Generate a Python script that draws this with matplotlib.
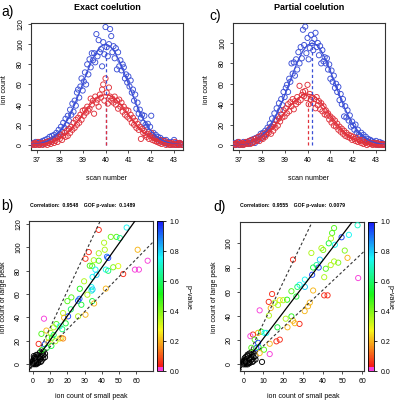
import numpy as np
import matplotlib
matplotlib.use("Agg")
import matplotlib.pyplot as plt
from matplotlib.colors import ListedColormap, Normalize, hsv_to_rgb
from matplotlib.cm import ScalarMappable

# ---------------- data ----------------
scan = [36.80, 36.85, 36.90, 36.95, 37.00, 37.05, 37.10, 37.15, 37.20, 37.25,
        37.30, 37.35, 37.40, 37.45, 37.50, 37.55, 37.60, 37.65, 37.70, 37.75,
        37.80, 37.85, 37.90, 37.95, 38.00, 38.05, 38.10, 38.15, 38.20, 38.25,
        38.30, 38.35, 38.40, 38.45, 38.50, 38.55, 38.60, 38.65, 38.70, 38.75,
        38.80, 38.85, 38.90, 38.95, 39.00, 39.05, 39.10, 39.15, 39.20, 39.25,
        39.30, 39.35, 39.40, 39.45, 39.50, 39.55, 39.60, 39.65, 39.70, 39.75,
        39.80, 39.85, 39.90, 39.95, 40.00, 40.05, 40.10, 40.15, 40.20, 40.25,
        40.30, 40.35, 40.40, 40.45, 40.50, 40.55, 40.60, 40.65, 40.70, 40.75,
        40.80, 40.85, 40.90, 40.95, 41.00, 41.05, 41.10, 41.15, 41.20, 41.25,
        41.30, 41.35, 41.40, 41.45, 41.50, 41.55, 41.60, 41.65, 41.70, 41.75,
        41.80, 41.85, 41.90, 41.95, 42.00, 42.05, 42.10, 42.15, 42.20, 42.25,
        42.30, 42.35, 42.40, 42.45, 42.50, 42.55, 42.60, 42.65, 42.70, 42.75,
        42.80, 42.85, 42.90, 42.95, 43.00, 43.05, 43.10, 43.15, 43.20, 43.25,
        43.30, 43.35]

blue_a = [1, 2, 0, 3, 1, 2, 0, 3, 2, 4,
          1, 5, 3, 6, 2, 8, 4, 9, 6, 10,
          7, 12, 9, 15, 11, 18, 13, 22, 17, 26,
          20, 29, 24, 35, 30, 41, 33, 44, 39, 52,
          55, 47, 58, 66, 54, 63, 72, 60, 80, 70,
          85, 77, 91, 84, 91, 82, 110, 88, 104, 92,
          95, 78, 102, 90, 117, 97, 88, 100, 115, 108,
          92, 98, 86, 96, 75, 92, 78, 84, 74, 80,
          77, 66, 70, 62, 68, 58, 64, 52, 55, 44,
          50, 36, 42, 31, 35, 27, 30, 22, 29, 20,
          18, 21, 13, 18, 29, 10, 12, 7, 10, 6,
          8, 5, 7, 3, 5, 4, 2, 5, 1, 3,
          2, 0, 3, 1, 5, 0, 2, 1, 0, 2,
          1, 0]

red_a = [0, 1, 2, 0, 1, 3, 0, 1, 2, 0,
         2, 1, 3, 0, 2, 4, 1, 3, 5, 2,
         4, 7, 3, 8, 6, 10, 5, 9, 12, 8,
         14, 9, 16, 12, 18, 15, 22, 17, 25, 20,
         27, 22, 30, 25, 34, 29, 35, 32, 38, 34,
         36, 46, 40, 44, 31, 48, 42, 45, 38, 50,
         47, 55, 60, 44, 66, 52, 41, 57, 48, 44,
         46, 42, 48, 40, 44, 36, 45, 38, 42, 33,
         38, 30, 35, 28, 34, 26, 30, 22, 27, 20,
         24, 17, 21, 15, 18, 6, 16, 12, 14, 10,
         8, 11, 6, 9, 12, 5, 7, 4, 6, 3,
         4, 2, 5, 1, 3, 2, 4, 0, 2, 1,
         0, 2, 1, 0, 1, 3, 0, 1, 0, 2,
         1, 0]

blue_c = [2, 0, 1, 3, 0, 2, 1, 0, 3, 1,
          2, 3, 1, 4, 2, 5, 3, 6, 2, 7,
          4, 8, 6, 11, 7, 12, 9, 14, 11, 17,
          15, 21, 18, 26, 20, 31, 25, 36, 28, 41,
          34, 45, 39, 52, 47, 56, 59, 52, 65, 62,
          80, 70, 81, 68, 84, 74, 91, 80, 96, 85,
          113, 98, 116, 90, 105, 84, 95, 108, 100, 93,
          104, 110, 96, 100, 88, 97, 80, 93, 82, 86,
          80, 85, 74, 79, 65, 73, 62, 68, 56, 60,
          52, 57, 44, 50, 40, 45, 28, 38, 27, 34,
          24, 29, 18, 23, 19, 15, 20, 12, 15, 10,
          9, 12, 7, 10, 5, 8, 4, 6, 3, 5,
          4, 2, 3, 1, 4, 2, 0, 3, 1, 2,
          0, 1]

red_c = [1, 0, 2, 1, 3, 0, 1, 2, 0, 1,
         3, 1, 2, 4, 1, 5, 2, 3, 6, 4,
         5, 8, 4, 9, 7, 6, 11, 8, 10, 13,
         12, 16, 11, 18, 14, 20, 17, 24, 19, 26,
         23, 30, 27, 34, 28, 36, 31, 40, 33, 42,
         38, 45, 35, 43, 40, 47, 42, 58, 44, 49,
         52, 48, 53, 46, 59, 40, 50, 44, 47, 41,
         45, 36, 47, 39, 43, 35, 41, 33, 38, 30,
         34, 29, 31, 25, 28, 22, 26, 19, 24, 18,
         21, 15, 18, 13, 16, 11, 14, 9, 12, 8,
         10, 7, 9, 5, 8, 6, 4, 7, 3, 5,
         4, 2, 5, 1, 3, 2, 0, 3, 1, 2,
         1, 0, 2, 1, 0, 2, 1, 0, 1, 0,
         1, 0]

# fitted curves, read at 0.2 scan spacing
fit_scan = [36.8, 37.0, 37.2, 37.4, 37.6, 37.8, 38.0, 38.2, 38.4, 38.6, 38.8, 39.0,
            39.2, 39.4, 39.6, 39.8, 40.0, 40.2, 40.4, 40.6, 40.8, 41.0, 41.2, 41.4,
            41.6, 41.8, 42.0, 42.2, 42.4, 42.6, 42.8, 43.0, 43.2, 43.4]
fit_blue_a = [0.6, 1.1, 2.0, 3.4, 5.6, 8.9, 13.5, 19.8, 27.8, 37.5, 48.7, 60.7,
              72.6, 83.5, 92.3, 98.0, 100.0, 98.0, 92.3, 83.5, 72.6, 60.7, 48.7, 37.5,
              27.8, 19.8, 13.5, 8.9, 5.6, 3.4, 2.0, 1.1, 0.6, 0.3]
fit_red_a = [0.3, 0.6, 1.0, 1.7, 2.8, 4.5, 6.8, 9.9, 13.9, 18.8, 24.4, 30.4,
             36.3, 41.8, 46.2, 49.0, 50.0, 49.0, 46.2, 41.8, 36.3, 30.4, 24.4, 18.8,
             13.9, 9.9, 6.8, 4.5, 2.8, 1.7, 1.0, 0.6, 0.3, 0.2]
fit_blue_c = [0.3, 0.6, 1.1, 2.0, 3.4, 5.6, 8.9, 13.5, 19.8, 27.8, 37.5, 48.7,
              60.7, 72.6, 83.5, 92.3, 98.0, 100.0, 98.0, 92.3, 83.5, 72.6, 60.7, 48.7,
              37.5, 27.8, 19.8, 13.5, 8.9, 5.6, 3.4, 2.0, 1.1, 0.6]
fit_red_c = [0.4, 0.8, 1.4, 2.3, 3.7, 5.6, 8.2, 11.6, 15.8, 20.6, 26.0, 31.6,
             37.0, 42.0, 46.3, 49.1, 50.0, 48.9, 45.9, 41.3, 35.6, 29.4, 23.3, 17.6,
             12.8, 8.9, 5.9, 3.8, 2.3, 1.3, 0.7, 0.4, 0.2, 0.1]

apex_a = {"blue": (40.0, 100.0), "red": (40.0, 50.0)}
apex_c = {"blue": (40.2, 100.0), "red": (40.0, 50.0)}

# panel b: (small peak, large peak, p-value)
b_small = [38.2, 54.4, 45.2, 48.5, 50.5, 41.3, 60.8, 41.7, 32.4, 38.2,
           43.7, 43.0, 66.6, 30.5, 35.3, 38.2, 33.0, 34.4, 49.5, 46.6,
           36.3, 42.3, 43.7, 59.2, 61.5, 52.4, 36.9, 34.6, 29.7, 27.2,
           34.0, 34.0, 34.6, 42.3, 31.6, 22.3, 26.2, 27.0, 20.0, 34.4,
           35.5, 28.1, 17.5, 30.5, 26.2, 20.4, 6.4, 18.1, 13.6, 15.5,
           19.0, 12.0, 7.8, 10.3, 4.9, 11.0, 9.0, 3.3, 6.8, 15.5,
           16.5, 17.5, 9.0, 13.0, 10.7, 8.0, 5.0, 12.0, 17.0, 22.0]
b_large = [115.0, 117.0, 109.0, 109.0, 108.0, 104.0, 98.0, 98.0, 96.0, 95.0,
           91.0, 92.0, 88.6, 90.3, 89.0, 88.6, 84.3, 84.0, 84.0, 83.0,
           81.0, 81.0, 80.0, 81.0, 81.0, 77.2, 76.5, 74.7, 71.0, 64.6,
           66.0, 63.0, 64.0, 64.7, 59.5, 57.2, 54.4, 56.0, 54.0, 54.0,
           52.0, 50.9, 43.8, 42.4, 41.0, 41.0, 39.0, 39.8, 34.4, 32.4,
           35.0, 31.6, 28.8, 26.8, 26.0, 22.7, 22.7, 17.4, 17.0, 22.0,
           22.5, 22.0, 18.5, 19.7, 15.7, 14.0, 12.0, 25.0, 30.0, 47.0]
b_pval = [0.05, 0.75, 0.42, 0.45, 0.65, 0.35, 0.20, 0.35, 0.05, 0.35,
          0.95, 0.90, 0.01, 0.06, 0.35, 0.45, 0.45, 0.45, 0.30, 0.40,
          0.75, 0.75, 0.60, 0.01, 0.01, 0.05, 0.80, 0.75, 0.35, 0.50,
          0.75, 0.70, 0.80, 0.20, 0.35, 0.45, 0.95, 0.90, 0.45, 0.55,
          0.20, 0.55, 0.35, 0.20, 0.35, 0.95, 0.01, 0.20, 0.45, 0.75,
          0.55, 0.35, 0.20, 0.35, 0.45, 0.50, 0.40, 0.05, 0.95, 0.30,
          0.20, 0.15, 0.20, 0.35, 0.55, 0.55, 0.50, 0.60, 0.60, 0.60]
b_black_small = [0, 0.5, 1, 0, 1, 0.5, 2, 2, 1, 0, 3, 3, 2, 4, 4, 5, 5, 6, 6, 7,
                 3, 4, 1, 2, 0, 1, 0.5, 3, 5, 7, 6, 2, 1.5, 4.5]
b_black_large = [0, 1, 2, 3, 4, 5, 1, 3, 6, 2, 2, 5, 6, 4, 7, 6, 9, 8, 5, 9,
                 8, 10, 0, 0, 1, 3, 7, 1, 3, 6, 11, 8, 4.5, 2]

# panel d
d_small = [57.7, 45.8, 44.8, 49.6, 53.3, 44.2, 46.2, 43.1, 51.2, 39.4,
           40.3, 34.3, 25.0, 38.6, 52.6, 45.8, 47.9, 58.0, 36.9, 38.0,
           35.2, 41.6, 44.1, 34.7, 40.8, 31.0, 28.3, 27.2, 24.2, 35.2,
           26.7, 31.0, 14.4, 40.8, 42.5, 22.0, 18.3, 20.0, 15.7, 12.7,
           17.4, 32.6, 33.5, 13.7, 8.1, 30.9, 12.8, 24.2, 21.3, 28.3,
           25.0, 25.9, 17.1, 22.2, 8.9, 10.6, 11.5, 7.3, 4.7, 3.4,
           5.6, 18.3, 16.6, 13.2, 7.3, 6.4, 10.3, 13.2, 3.9, 7.6, 8.1]
d_large = [114.9, 112.6, 108.5, 105.0, 107.0, 104.0, 98.8, 100.0, 94.0, 96.0,
           94.5, 92.0, 86.5, 86.5, 88.0, 85.0, 84.0, 71.3, 82.0, 80.0,
           80.0, 79.0, 82.0, 74.0, 72.0, 70.0, 65.7, 64.0, 60.4, 61.0,
           56.0, 64.0, 58.1, 57.0, 57.0, 53.4, 53.0, 53.0, 50.9, 51.6,
           49.0, 48.0, 51.0, 46.5, 44.6, 44.0, 40.3, 39.6, 37.7, 33.4,
           36.0, 34.0, 30.6, 30.6, 27.0, 26.0, 26.0, 26.0, 24.6, 23.3,
           20.4, 20.4, 19.0, 17.0, 17.8, 13.5, 12.1, 8.5, 13.7, 14.0, 9.3]
d_pval = [0.70, 0.45, 0.45, 0.95, 0.75, 0.35, 0.75, 0.55, 0.40, 0.35,
          0.40, 0.35, 0.05, 0.80, 0.20, 0.35, 0.40, 0.01, 0.65, 0.95,
          0.55, 0.45, 0.35, 0.95, 0.35, 0.75, 0.75, 0.60, 0.45, 0.20,
          0.55, 0.80, 0.05, 0.05, 0.05, 0.50, 0.25, 0.35, 0.35, 0.05,
          0.35, 0.20, 0.20, 0.20, 0.01, 0.20, 0.35, 0.50, 0.35, 0.05,
          0.20, 0.20, 0.55, 0.20, 0.50, 0.75, 0.75, 0.20, 0.05, 0.01,
          0.45, 0.05, 0.05, 0.20, 0.95, 0.95, 0.45, 0.01, 0.45, 0.55, 0.20]
d_black_small = [0, 0.5, 1, 0, 1, 0.5, 2, 2, 1, 0, 3, 3, 2, 4, 4, 5, 5, 6, 6,
                 3, 4, 1, 2, 0, 1, 3, 5, 2, 1.5, 4.5, 9.3]
d_black_large = [0, 1, 2, 3, 4, 5, 1, 3, 6, 2, 2, 5, 7, 4, 8, 6, 9, 4, 7,
                 9, 10, 0, 0, 1, 3, 1, 3, 8, 4.5, 2, 2]

slopes_b = {"fit": 2.07, "upper": 3.14, "lower": 1.50}
slopes_d = {"fit": 2.14, "upper": 3.39, "lower": 1.53}
stats_b = "Correlation:  0.9548    GOF p-value:  0.1489"
stats_d = "Correlation:  0.9555    GOF p-value:  0.0079"

# ---------------- style ----------------
plt.rcParams['font.family'] = ['Liberation Sans', 'DejaVu Sans']
BLUE = '#3b4fd6'
RED = '#e0323c'
W, H = 404, 401
MS = 14
MLW = 0.65

hues = np.linspace(0.0, 0.667, 194)
rgb = hsv_to_rgb(np.column_stack([hues, np.full_like(hues, 0.9), np.full_like(hues, 0.97)]))
mag = np.tile(hsv_to_rgb([0.86, 0.75, 0.97]), (6, 1))
cmap = ListedColormap(np.vstack([mag, rgb]))
norm = Normalize(0, 1)

fig = plt.figure(figsize=(W / 100, H / 100), dpi=100)


def box(l, t, r, b):
    return [l / W, 1 - b / H, (r - l) / W, (b - t) / H]


def style(ax):
    for s in ax.spines.values():
        s.set_linewidth(0.8)
        s.set_color('#333333')
    ax.tick_params(length=2.5, width=0.6, labelsize=5, pad=2.5, color='#333333')
    ax.tick_params(axis='y', labelrotation=90)
    for lab in ax.get_yticklabels():
        lab.set_va('center')


def top_panel(ax, b, r, fb, fr, apex):
    ax.scatter(scan, b, s=MS, facecolors='none', edgecolors=BLUE, linewidths=MLW, zorder=3)
    ax.scatter(scan, r, s=MS, facecolors='none', edgecolors=RED, linewidths=MLW, zorder=3)
    ax.plot(fit_scan, fb, color=BLUE, lw=0.9, zorder=4)
    ax.plot(fit_scan, fr, color=RED, lw=0.9, zorder=4)
    ax.vlines(apex["blue"][0], 0, apex["blue"][1], colors=BLUE, linestyles=(0, (2.5, 2)), lw=0.9, zorder=5)
    ax.vlines(apex["red"][0], 0, apex["red"][1], colors=RED, linestyles=(0, (2.5, 2)), lw=0.9, zorder=6)
    ax.set_xlim(36.74, 43.39)
    ax.set_xticks([37, 38, 39, 40, 41, 42, 43])


def bottom_panel(ax, xs, ys, ps, bx, by, slopes, xlim, ylim):
    ax.scatter(bx, by, s=MS, facecolors='none', edgecolors='black', linewidths=MLW, zorder=3)
    ax.scatter(xs, ys, s=MS, facecolors='none', edgecolors=cmap(norm(np.array(ps))),
               linewidths=MLW, zorder=3)
    xx = np.array([-5.0, 80.0])
    ax.plot(xx, slopes["fit"] * xx, color='black', lw=0.9, zorder=4)
    ax.plot(xx, slopes["upper"] * xx, color='#333333', lw=0.8, ls=(0, (2.5, 2)), zorder=4)
    ax.plot(xx, slopes["lower"] * xx, color='#333333', lw=0.8, ls=(0, (2.5, 2)), zorder=4)
    ax.set_xlim(*xlim)
    ax.set_ylim(*ylim)
    ax.set_xticks([0, 10, 20, 30, 40, 50, 60])


def colorbar(cax, label_x):
    cb = fig.colorbar(ScalarMappable(norm=norm, cmap=cmap), cax=cax)
    cb.set_ticks([0, 0.2, 0.4, 0.6, 0.8, 1.0])
    cb.set_ticklabels(['0.0', '0.2', '0.4', '0.6', '0.8', '1.0'])
    cb.outline.set_linewidth(0.6)
    cax.tick_params(length=2.5, width=0.6, labelsize=5, pad=2.5)
    fig.text(label_x / W, 1 - 297 / H, 'p\u2212value', rotation=270, ha='center', va='center', fontsize=5)


# panel a
axa = fig.add_axes(box(31, 23, 183, 150))
top_panel(axa, blue_a, red_a, fit_blue_a, fit_red_a, apex_a)
axa.set_ylim(-5, 121)
axa.set_yticks([0, 20, 40, 60, 80, 100, 120])
style(axa)

# panel c
axc = fig.add_axes(box(233, 23, 385, 150))
top_panel(axc, blue_c, red_c, fit_blue_c, fit_red_c, apex_c)
axc.set_ylim(-4.9, 119.6)
axc.set_yticks([0, 20, 40, 60, 80, 100])
style(axc)

# panel b
axb = fig.add_axes(box(29, 221, 153, 371))
bottom_panel(axb, b_small, b_large, b_pval, b_black_small, b_black_large, slopes_b,
             (-2.3, 69.7), (-5.8, 122.6))
axb.set_yticks([0, 20, 40, 60, 80, 100, 120])
style(axb)
caxb = fig.add_axes(box(157, 221, 163, 371))
colorbar(caxb, 188)

# panel d
axd = fig.add_axes(box(239.7, 222, 363.7, 371))
bottom_panel(axd, d_small, d_large, d_pval, d_black_small, d_black_large, slopes_d,
             (-2.0, 60.8), (-5.5, 117.6))
axd.set_yticks([0, 20, 40, 60, 80, 100])
style(axd)
caxd = fig.add_axes(box(367.7, 222, 373.7, 371))
colorbar(caxd, 390)

# texts
fs_lab = 5
fig.text(107 / W, 1 - 7 / H, 'Exact coelution', ha='center', va='center', fontsize=6.5, fontweight='bold')
fig.text(309 / W, 1 - 7 / H, 'Partial coelution', ha='center', va='center', fontsize=6.5, fontweight='bold')
fig.text(1 / W, 1 - 12 / H, 'a)', ha='left', va='center', fontsize=10)
fig.text(209 / W, 1 - 16 / H, 'c)', ha='left', va='center', fontsize=10)
fig.text(1 / W, 1 - 206 / H, 'b)', ha='left', va='center', fontsize=10)
fig.text(213 / W, 1 - 207 / H, 'd)', ha='left', va='center', fontsize=10)

fig.text(5 / W, 1 - 90 / H, 'ion count', rotation=90, ha='center', va='center', fontsize=fs_lab)
fig.text(206 / W, 1 - 90 / H, 'ion count', rotation=90, ha='center', va='center', fontsize=fs_lab)
fig.text(107 / W, 1 - 178 / H, 'scan number', ha='center', va='center', fontsize=fs_lab)
fig.text(309 / W, 1 - 178 / H, 'scan number', ha='center', va='center', fontsize=fs_lab)

fig.text(83 / W, 1 - 205 / H, stats_b, ha='center', va='center', fontsize=3.7, fontweight='bold')
fig.text(292 / W, 1 - 205 / H, stats_d, ha='center', va='center', fontsize=3.7, fontweight='bold')

fig.text(4 / W, 1 - 297 / H, 'ion count of large peak', rotation=90, ha='center', va='center', fontsize=fs_lab)
fig.text(214 / W, 1 - 297 / H, 'ion count of large peak', rotation=90, ha='center', va='center', fontsize=fs_lab)
fig.text(91 / W, 1 - 396 / H, 'ion count of small peak', ha='center', va='center', fontsize=fs_lab)
fig.text(303 / W, 1 - 396 / H, 'ion count of small peak', ha='center', va='center', fontsize=fs_lab)

fig.savefig('out.png', dpi=100)
